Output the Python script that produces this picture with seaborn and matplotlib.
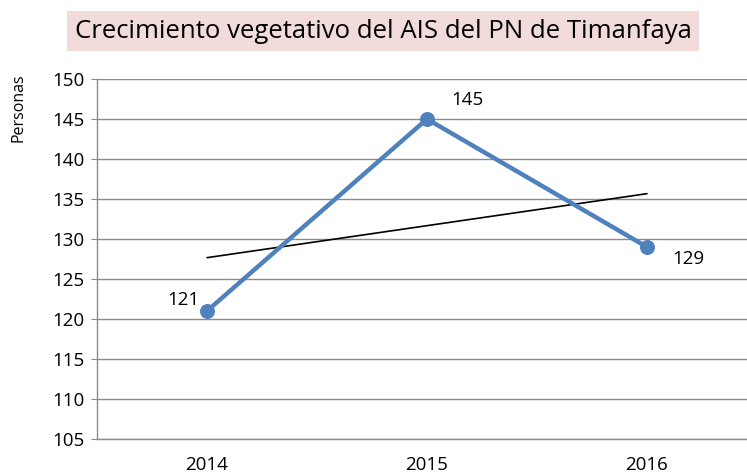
import numpy as np
import pandas as pd
import matplotlib
matplotlib.use('Agg')
import matplotlib.pyplot as plt
import seaborn as sns

# data
years = ['2014', '2015', '2016']
personas = [121, 145, 129]

df = pd.DataFrame({'Año': years, 'Personas': personas})

sns.set_style('white')
plt.rcParams['font.family'] = ['Open Sans', 'DejaVu Sans']
plt.rcParams['text.color'] = 'black'
plt.rcParams['xtick.color'] = 'black'
plt.rcParams['ytick.color'] = 'black'
plt.rcParams['axes.labelcolor'] = 'black'

fig = plt.figure(figsize=(7.47, 4.75), dpi=100)
ax = fig.add_axes([97 / 747, 36 / 475, 660 / 747, 360 / 475])

sns.lineplot(data=df, x='Año', y='Personas', ax=ax, color='#4F81BD', linewidth=3.2,
             marker='o', markersize=10, markeredgecolor='#4F81BD', zorder=3)

# linear trend line
pos = np.arange(len(years))
slope, intercept = np.polyfit(pos, personas, 1)
ax.plot(pos, slope * pos + intercept, color='black', linewidth=1.2, zorder=2)

# data labels
offsets = [(-17, 8), (29, 14), (30, -9)]
for i, v in enumerate(personas):
    ax.annotate(str(v), (i, v), xytext=offsets[i], textcoords='offset points',
                fontsize=13.5, ha='center', va='center')

ax.set_xlim(-0.5, 2.5)
ax.set_ylim(105, 150)
ax.set_yticks(range(105, 151, 5))
ax.yaxis.grid(True, color='#8C8C8C', linewidth=1)
ax.xaxis.grid(False)
for s in ['top', 'right']:
    ax.spines[s].set_visible(False)
for s in ['left', 'bottom']:
    ax.spines[s].set_color('#8C8C8C')
    ax.spines[s].set_linewidth(1)
ax.tick_params(axis='y', length=4, color='#8C8C8C', labelsize=13.5, pad=5, left=True)
ax.tick_params(axis='x', length=0, labelsize=13.5, pad=12)
ax.set_xlabel('')
ax.set_ylabel('Personas', fontsize=11.5)
ax.yaxis.set_label_coords(-70 / 660, 1 - 29 / 360)

fig.text(383 / 747, 1 - 31 / 475, 'Crecimiento vegetativo del AIS del PN de Timanfaya',
         ha='center', va='center', fontsize=18.5,
         bbox=dict(boxstyle='square,pad=0.3', facecolor='#F2DCDB', edgecolor='none'))

fig.savefig('out.png', dpi=100)
